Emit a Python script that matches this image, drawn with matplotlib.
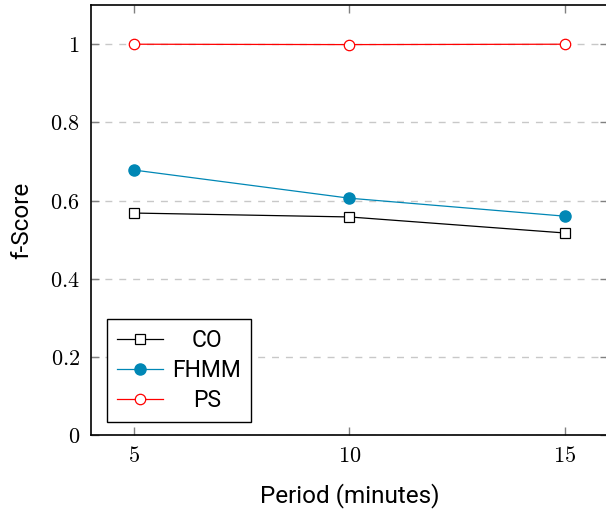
import matplotlib.pyplot as plt
from matplotlib.ticker import FuncFormatter

# data
periods = [5, 10, 15]
co = [0.568, 0.558, 0.517]
fhmm = [0.678, 0.606, 0.560]
ps = [1.0, 0.999, 1.0]

plt.rcParams['mathtext.fontset'] = 'cm'

fig = plt.figure(figsize=(6.06, 5.13), dpi=100)
ax = fig.add_axes([0.150, 0.152, 0.853, 0.838])

ax.plot(periods, co, color='black', lw=0.9, marker='s', ms=7,
        mfc='white', mec='black', mew=0.9, label='CO')
ax.plot(periods, fhmm, color='#0087B5', lw=0.9, marker='o', ms=8,
        mfc='#0087B5', mec='#0087B5', label='FHMM')
ax.plot(periods, ps, color='#FF0000', lw=0.9, marker='o', ms=7.5,
        mfc='white', mec='#FF0000', mew=0.9, label='PS')

ax.set_xlim(4, 16)
ax.set_ylim(0, 1.1)
ax.set_xticks(periods)
ax.set_yticks([0, 0.2, 0.4, 0.6, 0.8, 1])
fmt = FuncFormatter(lambda v, p: '$%g$' % round(v, 2))
ax.xaxis.set_major_formatter(fmt)
ax.yaxis.set_major_formatter(fmt)
ax.tick_params(direction='in', length=6, width=1, color='#808080',
               labelsize=16, top=True, right=True, pad=8)

ax.yaxis.grid(True, linestyle=(0, (5, 5)), color='#c8c8c8', lw=1)
ax.set_axisbelow(True)
for s in ax.spines.values():
    s.set_linewidth(1.2)

ax.set_xlabel('Period (minutes)', fontsize=17.5, family='Roboto', labelpad=12)
ax.set_ylabel('f-Score', fontsize=17.5, family='Roboto', labelpad=12)

leg = ax.legend(loc='lower left', bbox_to_anchor=(0.031, 0.030),
                borderaxespad=0, prop={'family': 'Roboto', 'size': 16.5},
                fancybox=False, framealpha=1, edgecolor='black',
                handlelength=2.0, borderpad=0.45, labelspacing=0.3,
                handletextpad=0.4)
leg.get_frame().set_linewidth(1)

# centre the legend labels like pgfplots does
fig.canvas.draw()
r = fig.canvas.get_renderer()
texts = leg.get_texts()
widths = [t.get_window_extent(r).width for t in texts]
wmax = max(widths)
for t, w in zip(texts, widths):
    t.set_position(((wmax - w) / 2, 0))

fig.savefig('out.png', dpi=100)
